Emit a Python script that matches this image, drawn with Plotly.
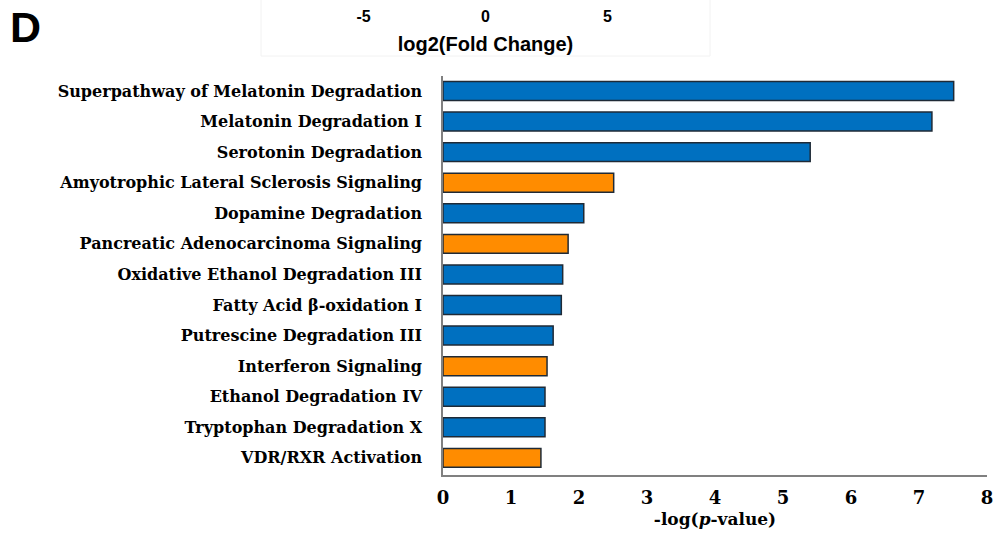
import plotly.graph_objects as go

# Pathway enrichment, listed top to bottom
pathways = [
    "Superpathway of Melatonin Degradation",
    "Melatonin Degradation I",
    "Serotonin Degradation",
    "Amyotrophic Lateral Sclerosis Signaling",
    "Dopamine Degradation",
    "Pancreatic Adenocarcinoma Signaling",
    "Oxidative Ethanol Degradation III",
    "Fatty Acid β-oxidation I",
    "Putrescine Degradation III",
    "Interferon Signaling",
    "Ethanol Degradation IV",
    "Tryptophan Degradation X",
    "VDR/RXR Activation",
]
neg_log_p = [7.51, 7.19, 5.40, 2.51, 2.07, 1.84, 1.76, 1.74, 1.62, 1.53, 1.50, 1.50, 1.44]
direction = ["down", "down", "down", "up", "down", "up", "down", "down", "down", "up", "down", "down", "up"]

x_ticks = [0, 1, 2, 3, 4, 5, 6, 7, 8]
fc_ticks = [-5, 0, 5]

BLUE = "#0070C0"
ORANGE = "#FF8C00"
colors = [BLUE if d == "down" else ORANGE for d in direction]

W, H = 998, 538
ML, MR, MT, MB = 0, 11, 0, 63
pw, ph = W - ML - MR, H - MT - MB
x0_px, top_px = 443, 76

serif = "DejaVu Serif"
sans = "Liberation Sans"


def bold(values):
    return [f"<b>{v}</b>" for v in values]


fig = go.Figure()
fig.add_trace(go.Bar(
    x=neg_log_p, y=pathways, orientation="h",
    marker=dict(color=colors, line=dict(color="#1f2a36", width=1.5)),
    hoverinfo="x+y",
))

# fold-change scale strip along the top edge
fig.add_trace(go.Scatter(
    x=fc_ticks, y=[0] * len(fc_ticks), xaxis="x2", yaxis="y2",
    mode="markers", marker=dict(opacity=0), hoverinfo="skip", showlegend=False,
))

fig.update_layout(
    width=W, height=H,
    margin=dict(l=ML, r=MR, t=MT, b=MB, autoexpand=False),
    paper_bgcolor="white", plot_bgcolor="white",
    showlegend=False,
    bargap=0.38,
    xaxis=dict(
        domain=[(x0_px - ML) / pw, 1], range=[0, 8],
        tickvals=x_ticks, ticktext=bold(x_ticks),
        showgrid=False, zeroline=False,
        showline=True, linecolor="#808080", linewidth=1.5,
        ticks="outside", ticklen=6, tickcolor="rgba(0,0,0,0)",
        tickfont=dict(family=serif, size=18, color="black"),
        title=dict(text="<b>-log(<i>p</i>-value)</b>", standoff=6,
                   font=dict(family=serif, size=17, color="black")),
        fixedrange=True,
    ),
    yaxis=dict(
        domain=[0, (ph - top_px) / ph],
        categoryorder="array", categoryarray=pathways,
        tickvals=pathways, ticktext=bold(pathways),
        range=[12.56, -0.49],
        showgrid=False, zeroline=False,
        showline=True, linecolor="#808080", linewidth=1.5,
        ticks="outside", ticklen=16, tickcolor="rgba(0,0,0,0)",
        tickfont=dict(family=serif, size=16, color="black"),
        fixedrange=True,
    ),
    xaxis2=dict(
        domain=[261 / pw, 710 / pw], range=[-9.2, 9.2],
        anchor="free", position=1, side="bottom",
        tickvals=fc_ticks, ticktext=bold(fc_ticks),
        showgrid=False, zeroline=False, showline=False,
        ticks="outside", ticklen=2, tickcolor="rgba(0,0,0,0)",
        tickfont=dict(family=sans, size=16, color="black"),
        title=dict(text="<b>log2(Fold Change)</b>", standoff=12,
                   font=dict(family=sans, size=20, color="black")),
        fixedrange=True,
    ),
    yaxis2=dict(domain=[0.99, 1], visible=False, range=[-1, 1], fixedrange=True),
    shapes=[dict(
        type="rect", xref="paper", yref="paper",
        x0=261 / pw, x1=710 / pw, y0=1 - 56 / ph, y1=1.05,
        line=dict(color="#f2f2f2", width=1), fillcolor="rgba(0,0,0,0)", layer="below",
    )],
    annotations=[dict(
        text="<b>D</b>", xref="paper", yref="paper",
        x=8 / pw, y=1 - 1 / ph, xanchor="left", yanchor="top",
        showarrow=False, font=dict(family=sans, size=43, color="black"),
    )],
)

fig.write_html("out.html")
